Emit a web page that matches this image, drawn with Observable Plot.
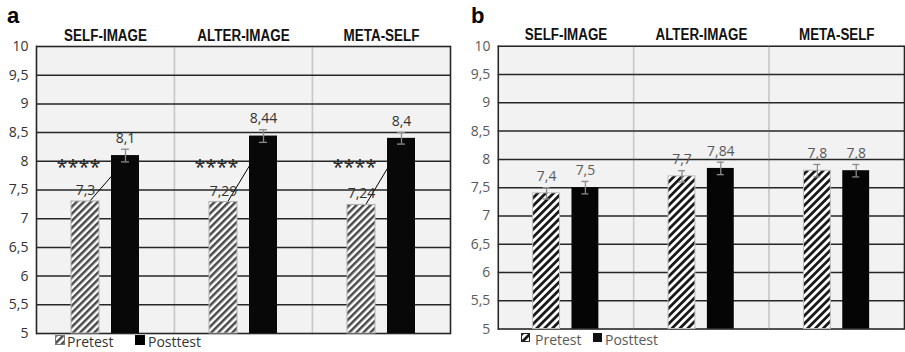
<!DOCTYPE html>
<html><head><meta charset="utf-8">
<script src="https://cdn.jsdelivr.net/npm/d3@7"></script>
<script src="https://cdn.jsdelivr.net/npm/@observablehq/plot@0.6"></script>
<style>
html,body{margin:0;padding:0;background:#fff;}
body{width:905px;height:352px;overflow:hidden;position:relative;font-family:"Open Sans",sans-serif;}
.panel{position:absolute;top:0;}
.letter{position:absolute;top:2px;font:bold 22px/28px "Liberation Sans",Arial,sans-serif;color:#000;}
.leg{position:absolute;font:14px/19px "Open Sans",sans-serif;white-space:nowrap;}
.icon{position:absolute;box-sizing:border-box;}
</style></head><body>
<div id="panelA" class="panel" style="left:0"></div>
<div id="panelB" class="panel" style="left:452px"></div>
<div class="letter" style="left:7px">a</div>
<div class="letter" style="left:471px">b</div>
<div id="legendA"></div>
<div id="legendB"></div>
<script>
// ---- data ----
const categories = ["SELF-IMAGE", "ALTER-IMAGE", "META-SELF"];
const series = ["Pretest", "Posttest"];
const yTicks = [5, 5.5, 6, 6.5, 7, 7.5, 8, 8.5, 9, 9.5, 10];

// panel a
const aPretest = [7.3, 7.29, 7.24];
const aPosttest = [8.1, 8.44, 8.4];
const aPosttestErr = [0.11, 0.11, 0.1];
const aSignificance = ["****", "****", "****"];
const aSignificanceLevel = 8;

// panel b
const bPretest = [7.4, 7.7, 7.8];
const bPosttest = [7.5, 7.84, 7.8];
const bPretestErr = [0.1, 0.1, 0.11];
const bPosttestErr = [0.11, 0.11, 0.11];

const fmt = v => String(v).replace(".", ",");

function rows(values, errs, s) {
  return categories.map((cat, i) => ({cat, series: s, value: values[i], err: errs ? errs[i] : 0}));
}

function panel({pre, post, preErr, postErr, sig, width, marginLeft, marginRight, marginBottom,
                tickColor, labelColor, hatchId, hatchColor, hatchSize, preStroke, postFill}) {
  const preRows = rows(pre, preErr, "Pretest");
  const postRows = rows(post, postErr, "Posttest");
  const errRows = [...(preErr ? preRows : []), ...(postErr ? postRows : [])];
  const wide = categories.map((cat, i) => ({cat, pre: pre[i], post: post[i], sig: sig ? sig[i] : ""}));
  const y0 = yTicks[0];
  const marks = [
    Plot.frame({fill: "#f2f2f2", stroke: "#c8c8c8", strokeWidth: 1.5}),
    Plot.ruleY(yTicks, {stroke: "#262626", strokeWidth: 1.5}),
    Plot.frame({anchor: "left", facetAnchor: "left", stroke: "#262626", strokeWidth: 1.5}),
    Plot.frame({anchor: "right", facetAnchor: "right", stroke: "#262626", strokeWidth: 1.5}),
    Plot.axisFx({anchor: "top", tickSize: 0, tickPadding: 6, label: null, fontSize: 16, fontWeight: "bold",
      fontFamily: "'Liberation Sans Narrow','Arial Narrow','Liberation Sans',sans-serif", color: "#111"}),
    Plot.axisY({anchor: "left", ticks: yTicks, tickSize: 0, tickPadding: 8, tickFormat: fmt, label: null,
      fontSize: 14, color: tickColor})
  ];
  if (sig) {
    marks.push(Plot.link(wide, {fx: "cat", x1: () => "Pretest", x2: () => "Posttest", y1: "pre", y2: "post",
      stroke: "#000", strokeWidth: 1, dx: 4}));
  }
  marks.push(
    Plot.barY(preRows, {fx: "cat", x: "series", y1: () => y0, y2: "value", fill: `url(#${hatchId})`, stroke: preStroke, strokeWidth: 1}),
    Plot.barY(postRows, {fx: "cat", x: "series", y1: () => y0, y2: "value", fill: postFill}),
    Plot.ruleX(errRows, {fx: "cat", x: "series", y1: d => d.value - d.err, y2: d => d.value + d.err, stroke: "#8c8c8c", strokeWidth: 1.3}),
    Plot.tickY(errRows, {fx: "cat", x: "series", y: d => d.value + d.err, stroke: "#8c8c8c", strokeWidth: 1.3, insetLeft: 10, insetRight: 10}),
    Plot.tickY(errRows, {fx: "cat", x: "series", y: d => d.value - d.err, stroke: "#8c8c8c", strokeWidth: 1.3, insetLeft: 10, insetRight: 10}),
    Plot.text([...preRows, ...postRows], {fx: "cat", x: "series", y: d => d.value + d.err, text: d => fmt(d.value),
      dy: -11, fontSize: 14, fill: labelColor})
  );
  if (sig) {
    marks.push(Plot.text(wide, {fx: "cat", x: () => "Pretest", y: () => aSignificanceLevel, text: "sig",
      dx: -7, dy: 6, fontSize: 20, fill: "#222"}));
  }
  const svg = Plot.plot({
    width, height: 352, marginLeft, marginRight, marginTop: 46, marginBottom,
    style: {fontFamily: "'Open Sans',sans-serif", background: "transparent"},
    fx: {domain: categories, padding: 0, axis: null},
    x: {domain: series, paddingInner: 0.31, paddingOuter: 0.88, axis: null},
    y: {domain: [yTicks[0], yTicks[yTicks.length - 1]], axis: null},
    marks
  });
  const defs = d3.select(svg).insert("defs", ":first-child");
  const p = defs.append("pattern").attr("id", hatchId).attr("patternUnits", "userSpaceOnUse")
    .attr("width", hatchSize).attr("height", hatchSize).attr("patternTransform", "rotate(45)");
  p.append("rect").attr("width", hatchSize).attr("height", hatchSize).attr("fill", "#fff");
  p.append("rect").attr("width", hatchSize / 2).attr("height", hatchSize).attr("fill", hatchColor);
  return svg;
}

// narrow the bold category headers (Arial Narrow look)
function condenseHeaders(svg) {
  d3.select(svg).selectAll("g[aria-label^='fx-axis'] text").each(function () {
    const w = this.getComputedTextLength();
    if (w > 0) {
      this.setAttribute("textLength", (w * 0.84).toFixed(1));
      this.setAttribute("lengthAdjust", "spacingAndGlyphs");
    }
  });
}

const svgA = panel({
  pre: aPretest, post: aPosttest, preErr: null, postErr: aPosttestErr, sig: aSignificance,
  width: 452, marginLeft: 35, marginRight: 2, marginBottom: 19,
  tickColor: "#333", labelColor: "#333", hatchId: "hatchA", hatchColor: "#4a4a4a", hatchSize: 5,
  preStroke: "#b0b0b0", postFill: "#080808"
});
document.getElementById("panelA").append(svgA);
condenseHeaders(svgA);
const svgB = panel({
  pre: bPretest, post: bPosttest, preErr: bPretestErr, postErr: bPosttestErr, sig: null,
  width: 455, marginLeft: 45, marginRight: 0, marginBottom: 22,
  tickColor: "#595959", labelColor: "#595959", hatchId: "hatchB", hatchColor: "#1a1a1a", hatchSize: 5.6,
  preStroke: "#bdbdbd", postFill: "#050505"
});
document.getElementById("panelB").append(svgB);
condenseHeaders(svgB);

// legends
function legend(id, items, top, color) {
  const el = document.getElementById(id);
  for (const it of items) {
    const ic = document.createElement("div");
    ic.className = "icon";
    Object.assign(ic.style, {left: it.icon + "px", top: (top + 3) + "px", width: it.size + "px", height: it.size + "px",
      background: it.fill, border: it.border});
    if (it.hatch) {
      ic.innerHTML = `<svg width="${it.size}" height="${it.size}" style="position:absolute;left:-1px;top:-1px"><rect width="${it.size}" height="${it.size}" fill="url(#${it.hatch})"/></svg>`;
      ic.style.overflow = "hidden";
    }
    el.append(ic);
    const t = document.createElement("div");
    t.className = "leg";
    t.textContent = it.label;
    Object.assign(t.style, {left: it.text + "px", top: top + "px", color});
    el.append(t);
  }
}
legend("legendA", [
  {label: series[0], icon: 55, text: 67, size: 10, hatch: "hatchA", border: "1px solid #777", fill: "#fff"},
  {label: series[1], icon: 135, text: 148, size: 10, border: "none", fill: "#000"}
], 332, "#333");
legend("legendB", [
  {label: series[0], icon: 521, text: 535, size: 9, hatch: "hatchB", border: "1px solid #222", fill: "#fff"},
  {label: series[1], icon: 593, text: 605, size: 9, border: "none", fill: "#111"}
], 330, "#595959");
</script>
</body></html>
